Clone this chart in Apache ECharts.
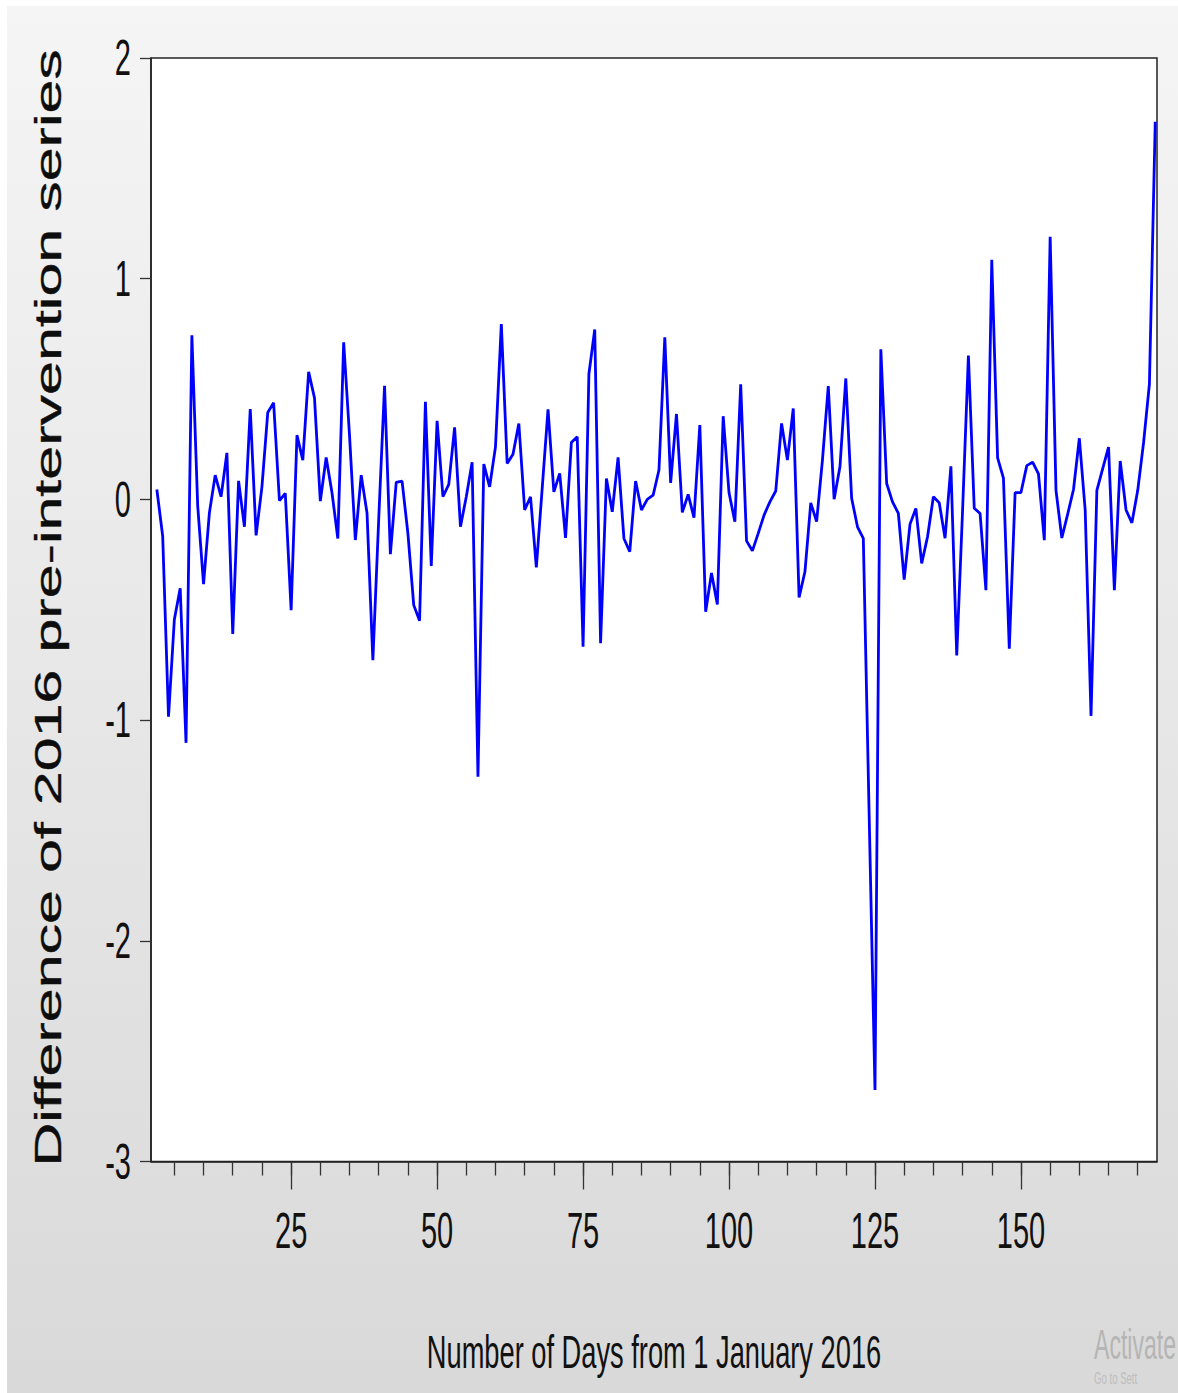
<!DOCTYPE html>
<html>
<head>
<meta charset="utf-8">
<script src="https://cdn.jsdelivr.net/npm/echarts@6/dist/echarts.min.js"></script>
<style>
html,body{margin:0;padding:0;background:#ffffff;width:1178px;height:1393px;overflow:hidden;}
#bg{position:absolute;left:7px;top:6px;width:1171px;height:1387px;background:linear-gradient(#f5f5f5,#d9d9d9);}
#chart{position:absolute;left:0;top:0;width:1178px;height:1393px;}
</style>
</head>
<body>
<div id="bg"></div>
<div id="chart"></div>
<script>
// Day index of the first differenced observation
const firstDay = 2;
// Difference of 2016 pre-intervention series (days 2..173)
const values = [
  0.045, -0.166, -0.985, -0.544, -0.403, -1.103, 0.744, -0.030, -0.384, -0.061,
  0.110, 0.012, 0.211, -0.610, 0.084, -0.124, 0.409, -0.163, 0.057, 0.394,
  0.438, -0.006, 0.027, -0.502, 0.291, 0.178, 0.578, 0.460, -0.008, 0.190,
  0.030, -0.177, 0.712, 0.290, -0.184, 0.110, -0.062, -0.728, -0.090, 0.515,
  -0.248, 0.077, 0.083, -0.154, -0.479, -0.550, 0.442, -0.301, 0.356, 0.012,
  0.068, 0.326, -0.124, 0.012, 0.168, -1.257, 0.160, 0.057, 0.238, 0.794,
  0.163, 0.205, 0.344, -0.048, 0.012, -0.308, 0.050, 0.408, 0.034, 0.118,
  -0.174, 0.258, 0.284, -0.668, 0.568, 0.770, -0.652, 0.095, -0.056, 0.190,
  -0.177, -0.237, 0.083, -0.048, 0.000, 0.019, 0.133, 0.734, 0.075, 0.387,
  -0.059, 0.023, -0.083, 0.337, -0.509, -0.333, -0.476, 0.377, 0.030, -0.101,
  0.522, -0.188, -0.233, -0.154, -0.071, -0.011, 0.038, 0.344, 0.178, 0.412,
  -0.444, -0.328, -0.016, -0.101, 0.178, 0.513, 0.001, 0.148, 0.548, 0.005,
  -0.124, -0.177, -1.430, -2.676, 0.680, 0.072, -0.011, -0.063, -0.363, -0.112,
  -0.041, -0.290, -0.169, 0.012, -0.015, -0.176, 0.150, -0.707, -0.050, 0.652,
  -0.040, -0.064, -0.411, 1.086, 0.188, 0.096, -0.676, 0.031, 0.031, 0.153,
  0.169, 0.116, -0.185, 1.190, 0.041, -0.175, -0.067, 0.045, 0.277, -0.048,
  -0.981, 0.041, 0.139, 0.237, -0.411, 0.174, -0.048, -0.106, 0.041, 0.257,
  0.522, 1.711
];
const xMinorTicks = [5,10,15,20,25,30,35,40,45,50,55,60,65,70,75,80,85,90,95,100,105,110,115,120,125,130,135,140,145,150,155,160,165,170];
const xTickLabels = [25, 50, 75, 100, 125, 150];
const yTickLabels = [2, 1, 0, -1, -2, -3];
const xTitle = 'Number of Days from 1 January 2016';
const yTitle = 'Difference of 2016 pre-intervention series';
const watermark1 = 'Activate';
const watermark2 = 'Go to Sett';

const seriesData = values.map((v, i) => [firstDay + i, v]);

const chart = echarts.init(document.getElementById('chart'), null, {renderer: 'svg'});
const FONT = '"Liberation Sans", Arial, sans-serif';
const SQX = 0.58;

const baseOption = {
  animation: false,
  backgroundColor: 'transparent',
  grid: {
    left: 151, top: 58, width: 1006, height: 1103.5,
    show: true, backgroundColor: '#ffffff', borderColor: '#222222', borderWidth: 1.5,
    containLabel: false
  },
  xAxis: [
    {
      type: 'value', min: 1, max: 173.3, position: 'bottom',
      axisLine: {show: true, onZero: false, lineStyle: {color: '#222222', width: 1.5}},
      axisTick: {show: true, customValues: xMinorTicks, length: 14, lineStyle: {color: '#333333', width: 1.3}},
      axisLabel: {show: false},
      splitLine: {show: false}
    },
    {
      type: 'value', min: 1, max: 173.3, position: 'bottom', gridIndex: 0,
      axisLine: {show: false, onZero: false},
      axisTick: {show: true, customValues: xTickLabels, length: 28, lineStyle: {color: '#333333', width: 1.3}},
      axisLabel: {show: false},
      splitLine: {show: false}
    }
  ],
  yAxis: {
    type: 'value', min: -3, max: 2, interval: 1,
    axisLine: {show: true, onZero: false, lineStyle: {color: '#222222', width: 1.5}},
    axisTick: {show: true, length: 11, lineStyle: {color: '#333333', width: 1.3}},
    axisLabel: {show: false},
    splitLine: {show: false}
  },
  series: [{
    type: 'line',
    xAxisIndex: 0,
    data: seriesData,
    showSymbol: false,
    symbol: 'none',
    lineStyle: {color: '#0000ff', width: 2.8},
    z: 3
  }]
};
chart.setOption(baseOption);

const graphics = [];
xTickLabels.forEach(v => {
  const px = chart.convertToPixel({xAxisIndex: 0}, v);
  graphics.push({
    type: 'text', x: px, y: 1231, scaleX: SQX, silent: true,
    style: {text: String(v), fontSize: 50, fontFamily: FONT, fill: '#111111', align: 'center', verticalAlign: 'middle'}
  });
});
yTickLabels.forEach(v => {
  const py = chart.convertToPixel({yAxisIndex: 0}, v);
  graphics.push({
    type: 'text', x: 131, y: py, scaleX: SQX, silent: true,
    style: {text: String(v), fontSize: 50, fontFamily: FONT, fill: '#111111', align: 'right', verticalAlign: 'middle'}
  });
});
graphics.push({
  type: 'text', x: 654, y: 1351, scaleX: SQX, silent: true,
  style: {text: xTitle, fontSize: 47, fontFamily: FONT, fill: '#111111', align: 'center', verticalAlign: 'middle'}
});
graphics.push({
  type: 'text', x: 48, y: 608, rotation: Math.PI / 2, scaleY: 0.6, silent: true,
  style: {text: yTitle, fontSize: 61, fontFamily: FONT, fill: '#0d0d0d', align: 'center', verticalAlign: 'middle',
          stroke: '#0d0d0d', lineWidth: 0.6}
});
graphics.push({
  type: 'text', x: 1094, y: 1344, scaleX: 0.55, silent: true,
  style: {text: watermark1, fontSize: 42, fontFamily: FONT, fill: '#b5b5b5', align: 'left', verticalAlign: 'middle'}
});
graphics.push({
  type: 'text', x: 1094, y: 1371, scaleX: 0.6, silent: true,
  style: {text: watermark2, fontSize: 16, fontFamily: FONT, fill: '#bdbdbd', align: 'left', verticalAlign: 'top'}
});
chart.setOption({graphic: graphics});
</script>
</body>
</html>
